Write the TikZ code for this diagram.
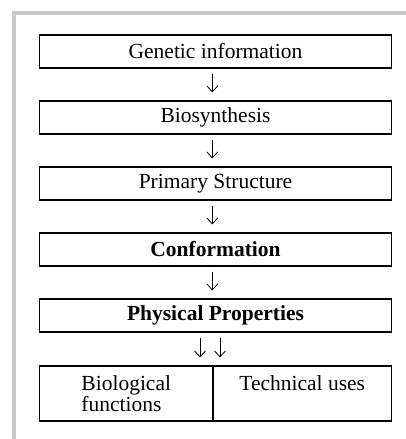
\documentclass[tikz,border=0pt]{standalone}
\usepackage{fontspec}
\setmainfont{Liberation Serif}
\usetikzlibrary{arrows.meta,positioning}
\begin{document}
\begin{tikzpicture}[x=1pt,y=1pt,
  stepbox/.style={draw=black,line width=1.1pt,minimum width=352pt,minimum height=33pt,inner sep=0pt,font=\fontsize{21.5}{22}\selectfont},
  cellbox/.style={draw=black,line width=1.1pt,minimum height=55pt,inner sep=0pt,font=\fontsize{21.5}{21.7}\selectfont},
  flow/.style={line width=0.8pt,-{Straight Barb[length=6pt,width=11pt,line width=0.8pt]},shorten <=5pt,shorten >=8pt}]
\useasboundingbox (0,0) rectangle (406,-439);
\fill[white] (0,0) rectangle (406,-439);
\draw[line width=4pt,color={rgb,255:red,200;green,200;blue,200}] (14,-439) -- (14,-13) -- (406,-13);
\node[stepbox] (g) at (215.5,-51.5) {Genetic information};
\node[stepbox] (b) at (215.5,-117.5) {Biosynthesis};
\node[stepbox] (p) at (215.5,-183.5) {Primary Structure};
\node[stepbox] (c) at (215.5,-249.5) {\bfseries Conformation};
\node[stepbox] (ph) at (215.5,-315.5) {\bfseries Physical Properties};
\node[cellbox,minimum width=173.5pt,align=left] (bio) at (126.25,-393.5) {Biological\\functions};
\node[cellbox,minimum width=178.5pt,align=center] (tech) at (302.25,-393.5) {Technical uses\\\mbox{}};
\coordinate (a1s) at (212.3,-68);
\coordinate (dl) at (200,0);
\coordinate (dr) at (220,0);
\draw[flow] (g.south -| a1s) -- (b.north -| a1s);
\draw[flow] (b.south -| a1s) -- (p.north -| a1s);
\draw[flow] (p.south -| a1s) -- (c.north -| a1s);
\draw[flow] (c.south -| a1s) -- (ph.north -| a1s);
\draw[flow] (ph.south -| dl) -- (bio.north -| dl);
\draw[flow] (ph.south -| dr) -- (tech.north -| dr);
\end{tikzpicture}
\end{document}
